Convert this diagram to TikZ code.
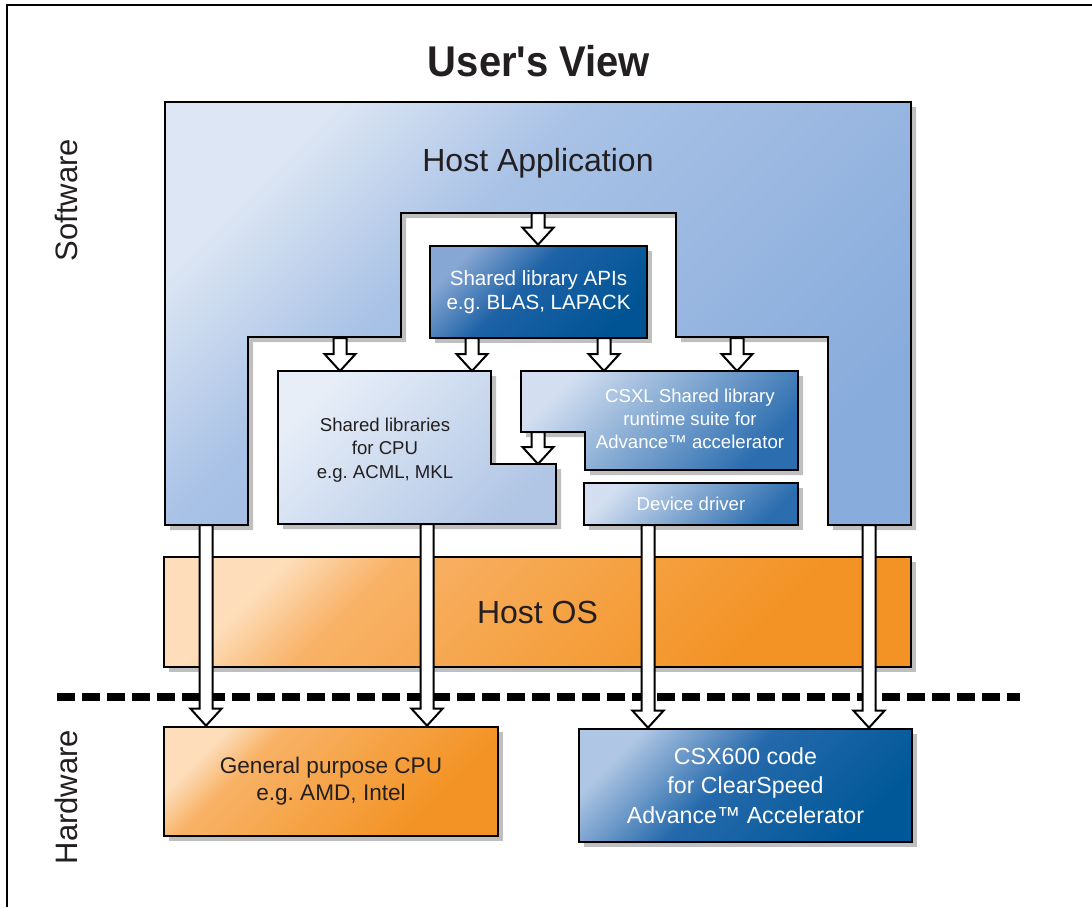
\documentclass[tikz,border=0pt]{standalone}
\usepackage{fontspec}
\setmainfont{Liberation Sans}
\newfontfamily\titlefont[Ligatures=TeXOff]{Liberation Sans}
\usetikzlibrary{calc,shadows}
\frenchspacing

\definecolor{hostA}{HTML}{DCE6F4}
\definecolor{hostB}{HTML}{A9C2E6}
\definecolor{hostC}{HTML}{88ACDC}
\definecolor{libA}{HTML}{E7EEF8}
\definecolor{libB}{HTML}{B1C6E5}
\definecolor{apiA}{HTML}{86A6D3}
\definecolor{apiB}{HTML}{1D62A6}
\definecolor{apiC}{HTML}{005494}
\definecolor{csxlA}{HTML}{D3DFF1}
\definecolor{csxlB}{HTML}{2B6DAF}
\definecolor{hwA}{HTML}{AFC6E4}
\definecolor{hwB}{HTML}{2569AB}
\definecolor{hwC}{HTML}{005898}
\definecolor{osA}{HTML}{FDDDBA}
\definecolor{osB}{HTML}{F8B266}
\definecolor{osC}{HTML}{F39325}
\definecolor{txt}{HTML}{231F20}

\pgfdeclarehorizontalshading{hostsh}{100bp}{color(0bp)=(hostA); color(25bp)=(hostA); color(40bp)=(hostB); color(75bp)=(hostC); color(100bp)=(hostC)}
\pgfdeclarehorizontalshading{libsh}{100bp}{color(0bp)=(libA); color(25bp)=(libA); color(75bp)=(libB); color(100bp)=(libB)}
\pgfdeclarehorizontalshading{apish}{100bp}{color(0bp)=(apiA); color(25bp)=(apiA); color(45bp)=(apiB); color(75bp)=(apiC); color(100bp)=(apiC)}
\pgfdeclarehorizontalshading{csxlsh}{100bp}{color(0bp)=(csxlA); color(25bp)=(csxlA); color(75bp)=(csxlB); color(100bp)=(csxlB)}
\pgfdeclarehorizontalshading{hwsh}{100bp}{color(0bp)=(hwA); color(25bp)=(hwA); color(46bp)=(hwB); color(75bp)=(hwC); color(100bp)=(hwC)}
\pgfdeclarehorizontalshading{ossh}{100bp}{color(0bp)=(osA); color(25bp)=(osA); color(34bp)=(osB); color(70bp)=(osC); color(100bp)=(osC)}

\tikzset{
  box/.style={draw=black, line width=1.3pt, inner sep=0pt, shade, shading angle=-45,
    drop shadow={shadow xshift=2.5pt, shadow yshift=-2.5pt, fill=black!25, opacity=1}},
  wh/.style 2 args={minimum width=#1, minimum height=#2},
  fatarrow/.style={draw=black, fill=white, line width=1pt, line join=miter},
  bigtxt/.style={font=\fontsize{16}{19}\selectfont, text=txt},
  midtxt/.style={align=center, font=\fontsize{11.3}{13.6}\selectfont},
  smalltxt/.style={align=center, font=\fontsize{9.3}{11.6}\selectfont},
  sidetxt/.style={rotate=90, font=\fontsize{15.5}{18}\selectfont, text=txt}
}

% fat white arrow straight down from #1 to #2
\newcommand{\bigarrow}[2]{%
  \draw[fatarrow] let \p1=(#1), \p2=(#2) in
    (\x1-3.25pt,\y1) -- (\x1-3.25pt,\y2+8.5pt) -- (\x1-7.75pt,\y2+8.5pt) -- (\x1,\y2)
    -- (\x1+7.75pt,\y2+8.5pt) -- (\x1+3.25pt,\y2+8.5pt) -- (\x1+3.25pt,\y1) -- cycle;}

\begin{document}
\begin{tikzpicture}[x=0.5pt,y=-0.5pt]
\useasboundingbox (0,0) rectangle (1092,907);

% frame and labels
\draw[line width=1pt] (7,907) -- (7,5) -- (1092,5);
\node[font=\titlefont\fontsize{21.5}{26}\selectfont\bfseries, text=txt, xscale=0.93, anchor=base] (title) at (539,76) {User's View};
\node[sidetxt] (sw) at (66,200) {Software};
\node[sidetxt] (hw) at (66,797) {Hardware};

% host application
\draw[box, shading=hostsh] (165,102) -- (911,102) -- (911,525) -- (828,525) -- (828,337)
  -- (676,337) -- (676,213) -- (401,213) -- (401,337) -- (248,337) -- (248,525) -- (165,525) -- cycle;
\node[bigtxt, anchor=base] (hostapp) at (538,171) {Host Application};

% libraries
\node[box, shading=apish, wh={108.5pt}{46pt}, smalltxt, font=\fontsize{10.3}{12}\selectfont, text=white] (api)
  at (538.5,292) {Shared library APIs\\e.g. BLAS, LAPACK};
\draw[box, shading=libsh] (278,371) -- (491,371) -- (491,464) -- (556,464) -- (556,524) -- (278,524) -- cycle;
\node[smalltxt, text=txt] (cpulib) at (385,450) {Shared libraries\\for CPU\\e.g. ACML, MKL};
\draw[box, shading=csxlsh] (521,371) -- (798,371) -- (798,470) -- (585,470) -- (585,432) -- (521,432) -- cycle;
\node[smalltxt, text=white] (csxl) at (690,419) {CSXL Shared library\\runtime suite for\\Advance™ accelerator};
\node[box, shading=csxlsh, wh={107pt}{21pt}, smalltxt, text=white] (dd) at (691,504) {Device driver};

% os and hardware
\node[box, shading=ossh, wh={373.5pt}{55pt}, bigtxt] (hostos) at (537.5,612) {Host OS};
\node[box, shading=ossh, wh={167pt}{54.5pt}, midtxt, text=txt] (cpu) at (331,781.5)
  {General purpose CPU\\e.g. AMD, Intel};
\node[box, shading=hwsh, wh={166.5pt}{56.5pt}, midtxt, font=\fontsize{11.6}{14.8}\selectfont, text=white] (csx)
  at (745.5,785.5) {CSX600 code\\for ClearSpeed\\Advance™ Accelerator};

\draw[line width=3.6pt, dash pattern=on 9pt off 3.5pt] (57,697) -- (1020,697);

% arrows
\coordinate (a1) at (538,213);
\coordinate (a2) at (340,338);
\coordinate (a3) at (472,338);
\coordinate (a4) at (604,338);
\coordinate (a5) at (737,338);
\coordinate (a6) at (538,432);
\coordinate (a7) at (206,525);
\coordinate (a8) at (427,524);
\coordinate (a9) at (648,525);
\coordinate (a10) at (869,525);
\coordinate (libtop) at (278,371);
\coordinate (libstep) at (491,464);

\bigarrow{a1}{a1 |- api.north}
\bigarrow{a2}{a2 |- libtop}
\bigarrow{a3}{a3 |- libtop}
\bigarrow{a4}{a4 |- libtop}
\bigarrow{a5}{a5 |- libtop}
\bigarrow{a6}{a6 |- libstep}
\bigarrow{a7}{a7 |- cpu.north}
\bigarrow{a8}{a8 |- cpu.north}
\bigarrow{a9}{a9 |- csx.north}
\bigarrow{a10}{a10 |- csx.north}
\end{tikzpicture}
\end{document}
